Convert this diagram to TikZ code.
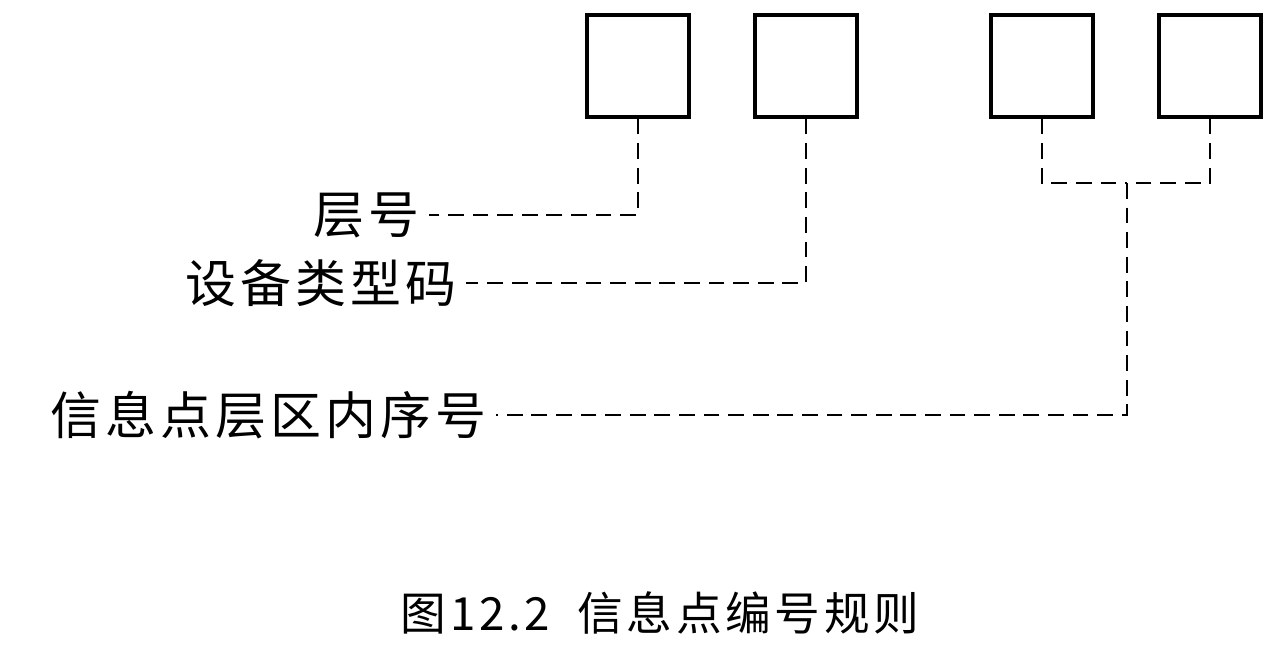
\documentclass[tikz,border=0pt]{standalone}
\usepackage{fontspec}
\newfontfamily\cjk[LetterSpace=8]{Noto Sans CJK SC}
\usetikzlibrary{positioning}

\begin{document}
\begin{tikzpicture}
[x=0.02cm,y=-0.02cm,
digit/.style ={rectangle, draw, line width=1.8pt, minimum size=2.04cm, inner sep=0pt},
lab/.style ={font=\cjk\fontsize{29}{31}\selectfont, inner sep=0pt, anchor=east},
link/.style ={draw, thick, dash pattern=on 9pt off 5pt}]
\useasboundingbox (0,0) rectangle (1277,652);
% digit boxes
\node [digit] (d1) at (638,66)  {};
\node [digit] (d2) at (806,66)  {};
\node [digit] (d3) at (1042,66) {};
\node [digit] (d4) at (1210,66) {};
% labels
\node [lab] (floor) at (420,215) {层号};
\node [lab] (type)  at (457,283) {设备类型码};
\node [lab] (seq)   at (487,415) {信息点层区内序号};
\coordinate (join) at (1127,183);
\begin{scope}[every path/.style=link]
\path (d1.south) |- ([xshift=5pt]floor.east);
\path (d2.south) |- ([xshift=5pt]type.east);
\path (d3.south) |- (join);
\path (d4.south) |- (join);
\path (join) |- ([xshift=5pt]seq.east);
\end{scope}
\node [font=\cjk\fontsize{26}{28}\selectfont, inner sep=0pt] (cap) at (660,613) {图12.2\ \ 信息点编号规则};
\end{tikzpicture}
\end{document}
